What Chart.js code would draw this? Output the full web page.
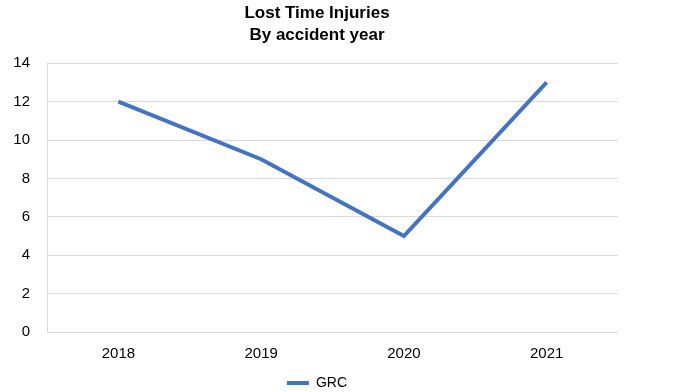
<!DOCTYPE html>
<html>
<head>
<meta charset="utf-8">
<script src="https://cdn.jsdelivr.net/npm/chart.js@4"></script>
<style>
  html, body { margin: 0; padding: 0; background: #fff; }
  #wrap { width: 678px; height: 392px; }
</style>
</head>
<body>
<div id="wrap"><canvas id="graf"></canvas></div>
<script>
var years = ['2018', '2019', '2020', '2021'];
var grc = [12, 9, 5, 13];
var yTicks = [0, 2, 4, 6, 8, 10, 12, 14];

var ctx = document.getElementById("graf").getContext("2d");
var graf = new Chart(ctx, {
    type: 'line',
    data: {
        labels: years,
        datasets: [{
            label: 'GRC',
            data: grc,
            borderColor: '#4472C4',
            backgroundColor: '#4472C4',
            borderWidth: 4,
            pointRadius: 0,
            tension: 0
        }]
    },
    options: {
        responsive: true,
        maintainAspectRatio: false,
        animation: false,
        layout: { padding: { left: 0, right: 44, top: 0, bottom: -8 } },
        plugins: {
            title: {
                display: true,
                text: ['Lost Time Injuries', 'By accident year'],
                color: '#000',
                font: { family: 'Liberation Sans', size: 17, weight: 'bold', lineHeight: 1.3 },
                padding: { top: 2, bottom: 17 }
            },
            legend: {
                position: 'bottom',
                labels: {
                    usePointStyle: true,
                    pointStyle: 'line',
                    pointStyleWidth: 22,
                    color: '#000',
                    font: { family: 'Liberation Sans', size: 14 },
                    padding: 0
                }
            },
            tooltip: { enabled: false }
        },
        scales: {
            x: {
                offset: true,
                grid: { display: false, drawTicks: false },
                border: { display: false },
                ticks: { color: '#000', font: { family: 'Liberation Sans', size: 15 }, padding: 13 }
            },
            y: {
                min: 0,
                max: 14,
                afterBuildTicks: function (s) { s.ticks = yTicks.map(function (v) { return { value: v }; }); },
                afterFit: function (s) { s.width = 47; },
                grid: { color: '#d9d9d9', lineWidth: 1, drawTicks: false },
                border: { display: true, color: '#d9d9d9' },
                ticks: { color: '#000', font: { family: 'Liberation Sans', size: 15 }, padding: 17 }
            },
            y2: {
                position: 'right',
                display: true,
                afterFit: function (s) { s.width = 16; },
                grid: { display: false },
                border: { display: false },
                ticks: { display: false }
            }
        }
    }
});
</script>
</body>
</html>
